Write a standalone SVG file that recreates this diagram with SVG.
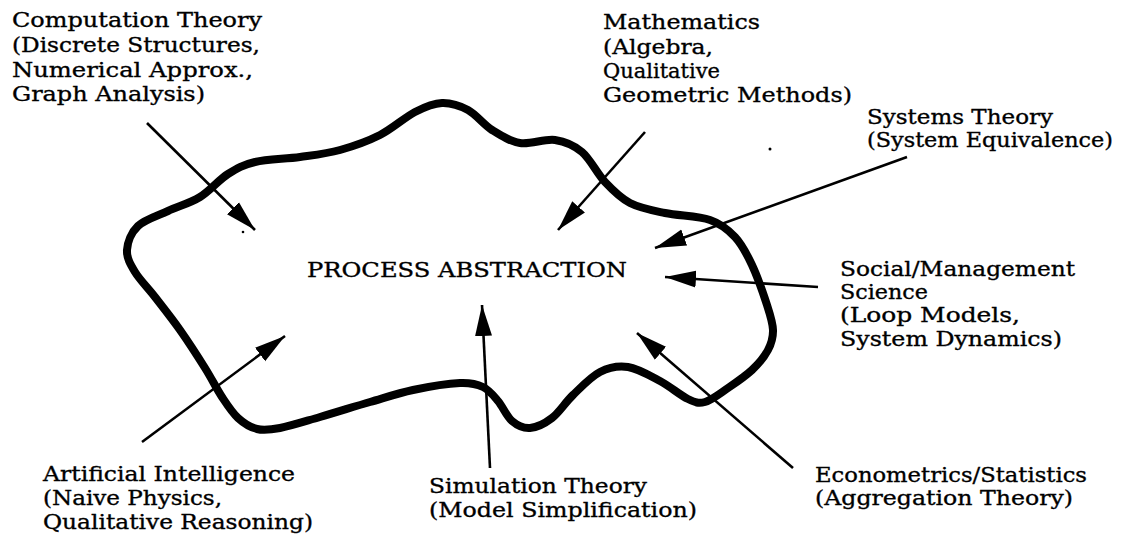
<svg xmlns="http://www.w3.org/2000/svg" width="1128" height="538" viewBox="0 0 1128 538">
<defs>
<marker id="ah" markerUnits="userSpaceOnUse" viewBox="0 0 32 18" markerWidth="32" markerHeight="18" refX="31" refY="9" orient="auto">
<path d="M0,0.5 L31,9 L0,17.5 Z" fill="#000"/>
</marker>
</defs>
<style>
text{font-family:"DejaVu Serif","Liberation Serif",serif;font-size:21px;fill:#000;stroke:#000;stroke-width:0.35}
.arrow{stroke:#000;stroke-width:2.6;fill:none;marker-end:url(#ah)}
.blob{stroke:#000;stroke-width:8;fill:none;stroke-linejoin:round}
</style>
<rect width="1128" height="538" fill="#fff"/>
<g id="process-abstraction">
<path class="blob" d="M127,250 C127.5,242.3 131.2,232.5 138,226 S157.7,215.8 168,211 S190,203.2 200,197 S218.8,179.8 228,174 S243,164.8 255,162 S285.8,159 300,157 S326.7,153.7 340,150 S367.5,141.3 380,135 S404.7,117.3 415,112 S433.2,103.3 442,103 S459.7,105.5 468,110 S483.3,124.5 492,130 S509.5,141.3 520,143 S544.7,138.5 555,140 S573.7,145 582,152 S597,173.5 605,182 S620,197.8 630,203 S651.7,210.2 665,213 S698.3,216 710,220 S728,229.5 735,237 S746.7,253.7 752,265 S763.5,294.2 767,305 S772.8,322.5 773,330 S771.5,343.3 768,350 S758.7,363.7 752,370 S735.8,382.7 728,388 S711.7,400.2 705,402 S695.5,402.5 688,399 S670,386.3 660,381 S638,368.5 628,367 S609.2,367.3 600,372 S581,387.3 573,395 S559.2,412.5 552,418 S536.7,427.5 530,428 S517.3,425.5 512,421 S502.8,406.7 498,401 S489.3,390 483,387 S471.7,382.5 460,383 S428,386.8 413,390 S385.5,397.5 370,402 S335,412.7 320,417 S290.5,426 280,428 S264,430.7 257,429 S243.8,423.3 238,418 S227.5,405.3 222,397 S212,379.2 205,368 S188.3,341.8 180,330 S162.5,306.7 155,297 S139.7,279.8 135,272 S126.5,257.7 127,250 Z"/>
<text x="307" y="277" textLength="320" lengthAdjust="spacingAndGlyphs">PROCESS ABSTRACTION</text>
</g>
<g id="connectors">
<line class="arrow" x1="147" y1="123" x2="255" y2="230"/>
<line class="arrow" x1="645" y1="132" x2="558" y2="230"/>
<line class="arrow" x1="907" y1="157" x2="655" y2="248"/>
<line class="arrow" x1="818" y1="287" x2="665" y2="277"/>
<line class="arrow" x1="793" y1="468" x2="637" y2="333"/>
<line class="arrow" x1="490" y1="468" x2="482" y2="305"/>
<line class="arrow" x1="142" y1="442" x2="285" y2="336"/>
</g>
<g id="specks">
<circle cx="243" cy="232" r="1.3"/>
<circle cx="770" cy="149" r="1.5"/>
</g>
<g id="computation-theory">
<text x="12" y="27" textLength="250" lengthAdjust="spacingAndGlyphs">Computation Theory</text>
<text x="12" y="52" textLength="248" lengthAdjust="spacingAndGlyphs">(Discrete Structures,</text>
<text x="12" y="77" textLength="241" lengthAdjust="spacingAndGlyphs">Numerical Approx.,</text>
<text x="12" y="101" textLength="193" lengthAdjust="spacingAndGlyphs">Graph Analysis)</text>
</g>
<g id="mathematics">
<text x="603" y="29" textLength="157" lengthAdjust="spacingAndGlyphs">Mathematics</text>
<text x="603" y="54" textLength="110" lengthAdjust="spacingAndGlyphs">(Algebra,</text>
<text x="603" y="78" textLength="117" lengthAdjust="spacingAndGlyphs">Qualitative</text>
<text x="603" y="102" textLength="249" lengthAdjust="spacingAndGlyphs">Geometric Methods)</text>
</g>
<g id="systems-theory">
<text x="867" y="124" textLength="186" lengthAdjust="spacingAndGlyphs">Systems Theory</text>
<text x="867" y="147" textLength="246" lengthAdjust="spacingAndGlyphs">(System Equivalence)</text>
</g>
<g id="social-management">
<text x="840" y="276" textLength="235" lengthAdjust="spacingAndGlyphs">Social/Management</text>
<text x="840" y="299" textLength="88" lengthAdjust="spacingAndGlyphs">Science</text>
<text x="840" y="322" textLength="180" lengthAdjust="spacingAndGlyphs">(Loop Models,</text>
<text x="840" y="346" textLength="222" lengthAdjust="spacingAndGlyphs">System Dynamics)</text>
</g>
<g id="artificial-intelligence">
<text x="43" y="481" textLength="252" lengthAdjust="spacingAndGlyphs">Artificial Intelligence</text>
<text x="43" y="505" textLength="179" lengthAdjust="spacingAndGlyphs">(Naive Physics,</text>
<text x="43" y="529" textLength="270" lengthAdjust="spacingAndGlyphs">Qualitative Reasoning)</text>
</g>
<g id="simulation-theory">
<text x="429" y="493" textLength="218" lengthAdjust="spacingAndGlyphs">Simulation Theory</text>
<text x="429" y="517" textLength="268" lengthAdjust="spacingAndGlyphs">(Model Simplification)</text>
</g>
<g id="econometrics">
<text x="815" y="482" textLength="272" lengthAdjust="spacingAndGlyphs">Econometrics/Statistics</text>
<text x="815" y="505" textLength="258" lengthAdjust="spacingAndGlyphs">(Aggregation Theory)</text>
</g>
</svg>
